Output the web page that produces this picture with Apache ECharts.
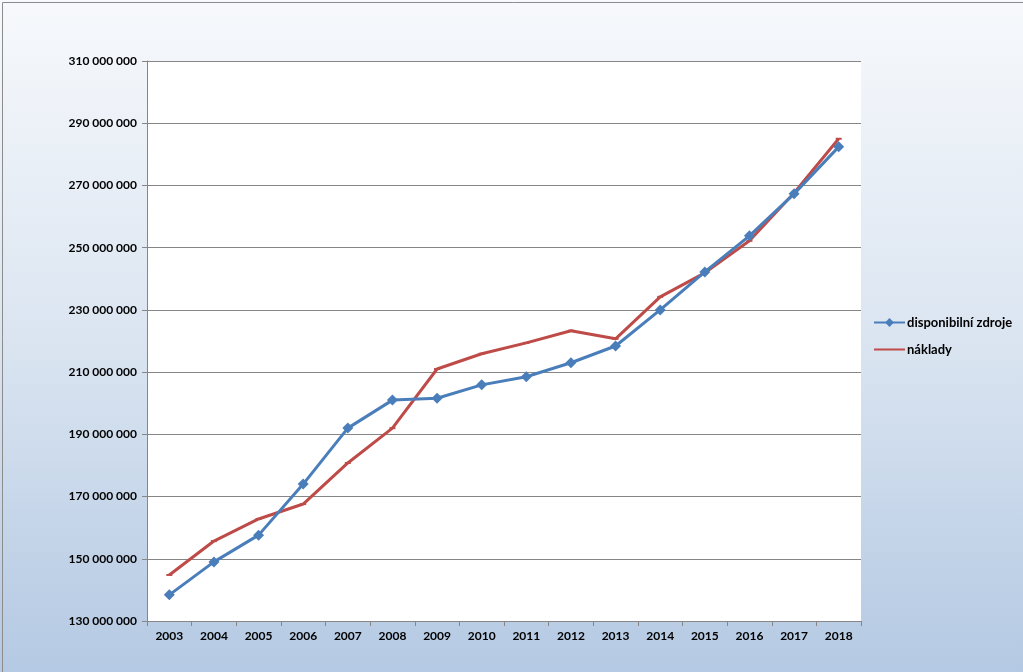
<!DOCTYPE html>
<html>
<head>
<meta charset="utf-8">
<script src="https://cdn.jsdelivr.net/npm/echarts@6/dist/echarts.min.js"></script>
<style>
html,body{margin:0;padding:0;}
#c{width:1023px;height:672px;}
</style>
</head>
<body>
<div id="c"></div>
<script>
const years = ['2003','2004','2005','2006','2007','2008','2009','2010','2011','2012','2013','2014','2015','2016','2017','2018'];
const disponibilniZdroje = [138.4, 149.0, 157.6, 174.0, 192.0, 201.0, 201.6, 205.9, 208.5, 213.0, 218.4, 230.0, 242.2, 253.8, 267.3, 282.4].map(v => v * 1e6);
const naklady = [144.8, 155.7, 162.8, 167.6, 180.8, 192.0, 211.0, 215.9, 219.4, 223.3, 220.7, 234.2, 241.9, 252.2, 267.6, 285.0].map(v => v * 1e6);
const seriesNames = ['disponibilní zdroje', 'náklady'];

const chart = echarts.init(document.getElementById('c'));
function fmt(v){
  return String(Math.round(v)).replace(/\B(?=(\d{3})+(?!\d))/g, ' ');
}
const font = 'Lato, Open Sans, sans-serif';
chart.setOption({
  backgroundColor: new echarts.graphic.LinearGradient(0, 0, 0, 1, [
    {offset: 0, color: '#f7f9fc'},
    {offset: 0.5, color: '#dbe5f1'},
    {offset: 1, color: '#b4c9e3'}
  ]),
  animation: false,
  graphic: [{
    type: 'rect', left: 0, top: 0, z: 100, silent: true,
    shape: {x: 0.5, y: 0.5, width: 1022, height: 671},
    style: {fill: 'none', stroke: '#8c8c8c', lineWidth: 1}
  }],
  grid: {left: 147, right: 162, top: 61, bottom: 51, show: true, backgroundColor: '#ffffff', borderWidth: 0},
  legend: {
    orient: 'vertical', left: 873, top: 316, padding: 0, itemGap: 14, itemWidth: 31, itemHeight: 11,
    textStyle: {fontFamily: font, fontWeight: 'bold', fontSize: 13, color: '#000', padding: [0, 0, 0, -3]},
    data: [seriesNames[0], {name: seriesNames[1], itemStyle: {opacity: 0}}]
  },
  xAxis: {
    type: 'category', data: years, boundaryGap: true,
    axisLine: {lineStyle: {color: '#868686', width: 1}},
    axisTick: {show: true, length: 5, lineStyle: {color: '#868686'}},
    axisLabel: {fontFamily: font, fontWeight: 'bold', fontSize: 12, color: '#000', margin: 9}
  },
  yAxis: {
    type: 'value', min: 130000000, max: 310000000, interval: 20000000,
    axisLine: {show: true, lineStyle: {color: '#868686', width: 1}},
    axisTick: {show: true, length: 5, lineStyle: {color: '#868686'}},
    splitLine: {lineStyle: {color: '#868686', width: 1}},
    axisLabel: {fontFamily: font, fontWeight: 'bold', fontSize: 12, color: '#000', margin: 10, formatter: fmt}
  },
  series: [
    {
      name: seriesNames[0], type: 'line', data: disponibilniZdroje,
      symbol: 'diamond', symbolSize: 11, showAllSymbol: true,
      itemStyle: {color: '#4a7ebb'},
      lineStyle: {color: '#4a7ebb', width: 3}, z: 3
    },
    {
      name: seriesNames[1], type: 'line', data: naklady,
      symbol: 'rect', symbolSize: [6, 2], showAllSymbol: true,
      itemStyle: {color: '#be4b48'},
      lineStyle: {color: '#be4b48', width: 3}, z: 2
    }
  ]
});
</script>
</body>
</html>
